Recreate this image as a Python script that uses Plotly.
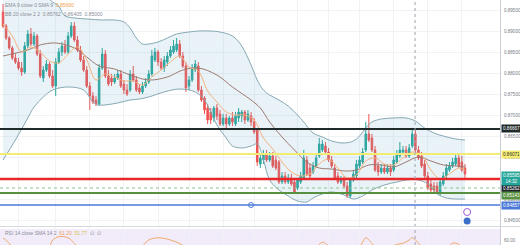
import plotly.graph_objects as go

# ---------------- data ----------------
idx = list(range(150))
opens = [.89452,.89119,.88833,.88595,.88357,.88262,.88119,.88024,.88643,.88929,
         .88690,.88881,.88452,.87881,.88071,.88214,.87929,.87690,.88262,.88500,
         .88643,.88500,.88881,.89119,.88786,.88548,.88310,.88071,.87690,.87452,
         .87357,.87262,.88119,.88452,.87929,.87881,.87786,.87881,.87976,.87738,
         .87595,.87595,.87976,.87833,.87643,.87548,.87690,.87786,.87976,.88310,
         .88500,.88262,.88119,.88262,.88405,.88500,.88548,.88690,.88405,.88167,
         .87690,.87833,.88071,.88167,.87595,.87405,.87167,.87071,.86929,.87167,
         .87024,.86786,.86929,.86786,.86929,.86786,.86929,.86976,.87071,.86881,
         .86976,.86833,.86643,.85833,.85929,.86071,.85929,.86024,.85929,.85881,
         .85405,.85548,.85405,.85500,.85405,.85262,.85405,.85500,.85929,.85738,
         .85643,.85786,.86024,.86167,.86262,.86119,.85929,.85738,.85548,.85405,
         .85452,.85310,.85071,.85452,.85548,.85786,.85881,.86167,.86548,.86452,
         .86167,.85786,.85643,.85738,.85643,.85738,.85690,.85881,.86024,.86119,
         .86167,.86024,.86262,.86548,.86167,.86024,.85833,.85548,.85357,.85310,
         .85310,.85167,.85357,.85548,.85690,.85786,.85833,.85976,.85881,.85738]
closes = [.89119,.88833,.88595,.88357,.88262,.88119,.88024,.88643,.88929,.88690,
          .88881,.88452,.87929,.88071,.88214,.87929,.87690,.88262,.88500,.88643,
          .88500,.88881,.89119,.88786,.88548,.88310,.88071,.87690,.87452,.87310,
          .87262,.88119,.88452,.87929,.87738,.87786,.87881,.87976,.87690,.87595,
          .87500,.87976,.87833,.87595,.87548,.87690,.87786,.87976,.88405,.88500,
          .88262,.88119,.88310,.88405,.88548,.88643,.88690,.88405,.88167,.87643,
          .87833,.88119,.88214,.87595,.87357,.87119,.86881,.86881,.87167,.86976,
          .86786,.86929,.86786,.86929,.86833,.86976,.87071,.87071,.86881,.87024,
          .86833,.86595,.85881,.85976,.86071,.85929,.86024,.85786,.85738,.85405,
          .85548,.85405,.85500,.85357,.85167,.85452,.85548,.85976,.85595,.85548,
          .85786,.85976,.86310,.86310,.86119,.85929,.85786,.85500,.85405,.85452,
          .85310,.85071,.85452,.85595,.85833,.85929,.86119,.86548,.86405,.86167,
          .85690,.85643,.85738,.85643,.85738,.85643,.85929,.86071,.86167,.86167,
          .86024,.86214,.86548,.86167,.85976,.85786,.85548,.85262,.85214,.85214,
          .85167,.85405,.85548,.85738,.85786,.85881,.85976,.85786,.85690,.85595]
highs = [.89643,.89167,.88881,.88643,.88452,.88357,.88262,.88738,.89024,.89071,
         .88976,.88929,.88548,.88167,.88310,.88262,.88071,.88357,.88595,.88738,
         .88786,.88976,.89214,.89214,.88881,.88643,.88405,.88167,.87786,.87548,
         .87452,.88214,.88595,.88548,.88071,.87976,.87976,.88071,.88071,.87833,
         .87738,.88071,.88167,.87929,.87738,.87786,.87881,.88071,.88548,.88595,
         .88548,.88357,.88405,.88500,.88643,.88786,.88833,.88786,.88500,.88262,
         .87929,.88214,.88310,.88262,.87690,.87452,.87262,.87167,.87214,.87262,
         .87119,.87024,.87024,.86976,.87071,.87071,.87167,.87119,.87119,.87119,
         .87071,.86929,.86690,.86071,.86167,.86167,.86119,.86119,.86024,.85929,
         .85643,.85643,.85595,.85595,.85452,.85500,.85643,.86167,.86024,.85833,
         .85881,.86071,.86452,.86405,.86357,.86214,.86024,.85833,.85643,.85548,
         .85548,.85405,.85500,.85690,.85929,.86024,.86214,.86833,.87024,.86548,
         .86262,.85881,.85833,.85833,.85833,.85833,.86024,.86167,.86357,.86262,
         .86262,.86310,.86690,.86643,.86262,.86119,.85929,.85643,.85452,.85405,
         .85405,.85500,.85643,.85833,.85881,.85976,.86071,.86071,.86024,.85833]
lows = [.89071,.88786,.88548,.88310,.88214,.88071,.87929,.87976,.88595,.88643,
        .88643,.88405,.87881,.87786,.88024,.87881,.87643,.87452,.88214,.88405,
        .88452,.88452,.88833,.88738,.88500,.88262,.88024,.87643,.87119,.87262,
        .87214,.87214,.88071,.87881,.87690,.87690,.87738,.87833,.87643,.87500,
        .87452,.87548,.87786,.87548,.87500,.87500,.87643,.87738,.87929,.88262,
        .88167,.88071,.88024,.88167,.88357,.88452,.88500,.88357,.88119,.87548,
        .87595,.87786,.88024,.87548,.87310,.87024,.86786,.86786,.86833,.86881,
        .86738,.86738,.86690,.86738,.86738,.86738,.86833,.86833,.86786,.86833,
        .86738,.86548,.85786,.85738,.85833,.85881,.85881,.85738,.85690,.85357,
        .85357,.85357,.85357,.85310,.85119,.85214,.85357,.85452,.85548,.85452,
        .85595,.85738,.85976,.86119,.86071,.85881,.85738,.85452,.85357,.85357,
        .85262,.85024,.85024,.85405,.85500,.85738,.85833,.86119,.86357,.86119,
        .85643,.85548,.85595,.85595,.85595,.85548,.85643,.85833,.85976,.86071,
        .85976,.85976,.86214,.86119,.85929,.85738,.85500,.85214,.85167,.85167,
        .85119,.85071,.85310,.85500,.85643,.85738,.85786,.85738,.85643,.85500]

bb_up_x = [0,5,10,14,16,18,19,20,23,27,32,36,39,41,43,45,47,50,53,56,60,63,67,70,74,77,80,82,84,86,89,92,95,97,100,103,106,110,113,115,117,119,122,126,130,133,136,139,142,146,149]
bb_up = [.90024,.89976,.89905,.89810,.89690,.89595,.89452,.89357,.89310,.89286,.89262,.89262,.89214,.89071,.88833,.88690,.88690,.88738,.88833,.88929,.88976,.89000,.89000,.88976,.88881,.88643,.88190,.87833,.87595,.87476,.87357,.87214,.87000,.86833,.86571,.86476,.86381,.86333,.86381,.86500,.86690,.86833,.86905,.86929,.86929,.86857,.86690,.86571,.86500,.86429,.86405]
bb_mid_x = [0,8,12,17,23,27,31,36,41,47,53,58,63,69,74,80,83,86,90,94,98,102,106,110,114,118,122,126,130,134,138,142,146,149]
bb_mid = [.88405,.88548,.88667,.88714,.88595,.88381,.88167,.88095,.87952,.87833,.87905,.88071,.88119,.87952,.87667,.87357,.87167,.86833,.86476,.86167,.85881,.85738,.85714,.85667,.85690,.85810,.85810,.85762,.85881,.86000,.85905,.85810,.85786,.85762]
bb_lo_x = [0,4,8,10,13,16,21,26,29,31,37,41,44,47,52,57,62,65,67,69,72,74,77,80,82,84,86,89,92,95,98,100,103,106,110,113,116,119,123,127,130,134,137,140,143,146,149]
bb_lo = [.85929,.86405,.86929,.87190,.87429,.87595,.87667,.87595,.87310,.87238,.87286,.87357,.87381,.87429,.87548,.87619,.87548,.87357,.87071,.86762,.86452,.86262,.86214,.86262,.86310,.85929,.85452,.85214,.85071,.84952,.84929,.85024,.85119,.85167,.85095,.85000,.85071,.85214,.85333,.85405,.85452,.85452,.85357,.85119,.85024,.85000,.85000]
ema_x = [0,3,6,9,12,15,18,21,24,27,30,33,36,39,42,45,48,51,54,57,60,63,66,69,72,75,78,81,84,87,90,93,96,99,102,105,108,111,114,117,120,123,126,129,132,135,138,141,144,147,149]
ema = [.89167,.88881,.88500,.88619,.88500,.88286,.88238,.88452,.88619,.88310,.87833,.87976,.87905,.87810,.87810,.87714,.87905,.88071,.88262,.88405,.88143,.88048,.87571,.87310,.87071,.87000,.87000,.86881,.86452,.86190,.85881,.85643,.85548,.85595,.85833,.85952,.85738,.85500,.85571,.85905,.85976,.85833,.85810,.85976,.86119,.86048,.85690,.85476,.85595,.85738,.85690]

rsi_x = [0,2,4,8,12,15,16,18,21,23,25,30,35,40,44,47,50,54,58,61,66,72,78,82,88,95,98,101,103,106,110,114,116,117,119,121,124,127,129,131,132,134,136,139,142,145,147,149]
rsi = [62,57,50,45,48,54,60,63,62,57,50,40,45,48,52,60,62,60,55,45,35,40,42,30,32,33,45,52,58,52,42,50,58,62,57,50,52,56,57,60,62,57,48,38,48,57,56,50]

price_ticks = [0.845, 0.850, 0.855, 0.860, 0.865, 0.870, 0.875, 0.880, 0.885, 0.890, 0.895]
level_black = 0.86667
level_yellow = 0.86071
level_red = 0.85476
level_dotted = 0.85262
level_green = 0.85143
level_blue = 0.84857
session_x = 132.9
grid_x = [5, 17, 28, 39, 50, 60, 71, 81, 95, 105, 115, 126, 137, 148]
anchor_blue_x, anchor_blue_y = [80], [level_blue]
alert_x = [149.7, 149.7]
alert_y = [0.84690, 0.84476]
current_price = closes[-1]

FONT = "Liberation Sans"
fig = go.Figure()

fig.add_trace(go.Scatter(x=bb_up_x, y=bb_up, mode="lines", line=dict(color="#86a9b4", width=1, shape="spline"),
                         hoverinfo="skip"))
fig.add_trace(go.Scatter(x=bb_lo_x, y=bb_lo, mode="lines", line=dict(color="#86a9b4", width=1, shape="spline"),
                         fill="tonexty", fillcolor="rgba(110,170,200,0.15)", hoverinfo="skip"))
fig.add_trace(go.Candlestick(x=idx, open=opens, high=highs, low=lows, close=closes,
                             increasing=dict(line=dict(color="#26a69a", width=1), fillcolor="#26a69a"),
                             decreasing=dict(line=dict(color="#ef5350", width=1), fillcolor="#ef5350"),
                             whiskerwidth=0))
fig.add_trace(go.Scatter(x=bb_mid_x, y=bb_mid, mode="lines", line=dict(color="#9c7b72", width=1, shape="spline")))
fig.add_trace(go.Scatter(x=ema_x, y=ema, mode="lines", line=dict(color="#f2b27c", width=1, shape="spline")))
fig.add_trace(go.Scatter(x=anchor_blue_x, y=anchor_blue_y, mode="markers",
                         marker=dict(symbol="circle", size=5, color="white", line=dict(color="#4a78d8", width=1))))
fig.add_trace(go.Scatter(x=alert_x[:1], y=alert_y[:1], mode="markers",
                         marker=dict(symbol="circle", size=7, color="white", line=dict(color="#9c5bd0", width=1))))
fig.add_trace(go.Scatter(x=alert_x[1:], y=alert_y[1:], mode="markers",
                         marker=dict(symbol="circle", size=7, color="#3d6fc9")))
fig.add_trace(go.Scatter(x=rsi_x, y=rsi, mode="lines", xaxis="x2", yaxis="y2",
                         line=dict(color="#f0a868", width=1, shape="spline")))

shapes = []
shapes.append(dict(type="rect", xref="paper", yref="y2", x0=0, x1=1, y0=30, y1=70,
                   fillcolor="rgba(155,110,220,0.13)", line=dict(width=0), layer="below"))
for lv, col, w, dash in [(level_black, "#1f2b2b", 2, "solid"), (level_yellow, "#f3ec72", 2, "solid"),
                         (level_red, "#e8272b", 2.5, "solid"), (level_dotted, "#8cc58c", 1, "dot"),
                         (level_green, "#57903e", 2, "solid"), (level_blue, "#4a78d8", 1.5, "solid")]:
    shapes.append(dict(type="line", xref="paper", yref="y", x0=0, x1=1, y0=lv, y1=lv,
                       line=dict(color=col, width=w, dash=dash)))
shapes.append(dict(type="line", xref="x", yref="paper", x0=session_x, x1=session_x, y0=0, y1=1,
                   line=dict(color="#9ea2ab", width=1, dash="dot")))
shapes.append(dict(type="line", xref="paper", yref="paper", x0=0, x1=1.04, y0=0.0755, y1=0.0755,
                   line=dict(color="#d6d9e0", width=1)))

ann = []
def lab(y, text, bg, fg="white", shift=0):
    ann.append(dict(xref="paper", yref="y", x=1, y=y, xanchor="left", yanchor="middle", xshift=1, yshift=shift,
                    text=text, showarrow=False, bgcolor=bg, borderpad=1,
                    font=dict(family=FONT, size=4.6, color=fg)))
lab(level_black, "%.5f" % level_black, "#1f2b2b")
lab(level_yellow, "%.5f" % level_yellow, "#f3ec72", "#333333")
lab(level_dotted, "%.5f" % level_dotted, "#1e222d", shift=-1)
lab(level_green, "%.5f" % level_green, "#57903e", shift=-3)
lab(level_blue, "%.5f" % level_blue, "#4a78d8", shift=0)
lab(current_price, "%.5f<br>14:32" % current_price, "#26a69a", shift=-4)

ann.append(dict(xref="paper", yref="paper", x=0.006, y=1 - 5 / 245, xanchor="left", yanchor="middle",
                showarrow=False, font=dict(family=FONT, size=5, color="#8a8d96"),
                text='EMA 9 close 0 SMA 9  <span style="color:#f0a050">0.85690</span>'))
ann.append(dict(xref="paper", yref="paper", x=0.006, y=1 - 14 / 245, xanchor="left", yanchor="middle",
                showarrow=False, font=dict(family=FONT, size=5, color="#8a8d96"),
                text='BB 20 close 2 2  0.85762  0.86405  0.85000'))
ann.append(dict(xref="paper", yref="paper", x=0.006, y=1 - 233 / 245, xanchor="left", yanchor="middle",
                showarrow=False, font=dict(family=FONT, size=5, color="#8a8d96"),
                text='RSI 14 close SMA 14 2  <span style="color:#e9a35c">61.20</span>  '
                     '<span style="color:#d9c24a">51.77</span>  ∅  ∅'))

fig.update_layout(
    width=520, height=245, margin=dict(l=0, r=20, t=0, b=0),
    paper_bgcolor="white", plot_bgcolor="white", showlegend=False,
    shapes=shapes, annotations=ann,
    font=dict(family=FONT, size=5, color="#787b86"),
    xaxis=dict(range=[-0.97, 160.3], domain=[0, 1], anchor="y", showticklabels=False, ticks="",
               tickvals=grid_x, showgrid=True, gridcolor="#f0f2f6", gridwidth=1, zeroline=False,
               rangeslider=dict(visible=False), showline=False),
    yaxis=dict(domain=[1 - 226 / 245, 1], range=[0.843571, 0.897381], side="right",
               tickvals=price_ticks, tickformat=".5f", showgrid=True, gridcolor="#f0f2f6",
               zeroline=False, showline=True, linecolor="#c9ccd3", linewidth=1, ticks="",
               tickfont=dict(family=FONT, size=4.6, color="#787b86"), automargin=False,
               ticklabelstandoff=2),
    xaxis2=dict(range=[-0.97, 160.3], domain=[0, 1], anchor="y2", matches="x", showticklabels=False,
                ticks="", tickvals=grid_x, showgrid=True, gridcolor="#f0f2f6", zeroline=False),
    yaxis2=dict(domain=[0, 18 / 245], range=[55.45, 71.8], side="right", tickvals=[60], tickformat=".2f",
                showgrid=False, zeroline=False, showline=True, linecolor="#c9ccd3", linewidth=1, ticks="",
                tickfont=dict(family=FONT, size=4.6, color="#787b86"), automargin=False,
                ticklabelstandoff=2),
)

fig.write_html("out.html", config={"displayModeBar": False})
